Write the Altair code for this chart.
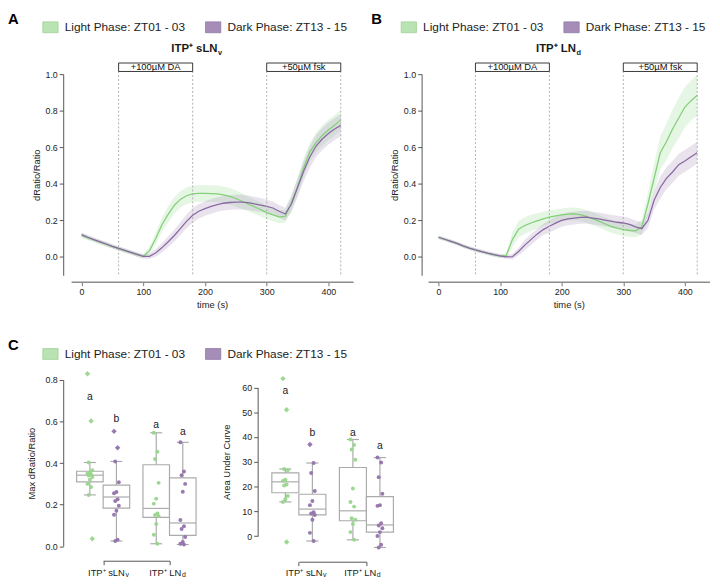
import altair as alt
import pandas as pd

FONT = "Liberation Sans"
INK = "#1a1a1a"
AX = "#555555"

phases = ["Light Phase: ZT01 - 03", "Dark Phase: ZT13 - 15"]

# ---------------- time courses (A, B) ----------------
time_s = list(range(0, 430, 10))

a_light = [0.118, 0.105, 0.093, 0.081, 0.069, 0.057, 0.046, 0.035, 0.024, 0.013, 0.004,
           0.035, 0.100, 0.175, 0.232, 0.282, 0.315, 0.335, 0.345, 0.348, 0.348,
           0.347, 0.345, 0.340, 0.332, 0.320, 0.305, 0.290, 0.275, 0.260, 0.243,
           0.230, 0.220, 0.222, 0.295, 0.385, 0.490, 0.575, 0.625, 0.665, 0.695, 0.720, 0.750]
a_dark = [0.122, 0.108, 0.095, 0.083, 0.071, 0.058, 0.047, 0.036, 0.025, 0.014, 0.003,
          0.004, 0.022, 0.050, 0.082, 0.116, 0.155, 0.195, 0.228, 0.250, 0.265,
          0.277, 0.287, 0.294, 0.298, 0.300, 0.300, 0.297, 0.290, 0.284, 0.277,
          0.268, 0.250, 0.235, 0.290, 0.380, 0.470, 0.548, 0.607, 0.645, 0.675, 0.700, 0.720]
a_light_sem = [0.012, 0.012, 0.012, 0.012, 0.012, 0.012, 0.012, 0.012, 0.012, 0.012, 0.012,
               0.020, 0.030, 0.040, 0.045, 0.045, 0.045, 0.045, 0.045, 0.046, 0.046,
               0.046, 0.046, 0.045, 0.045, 0.045, 0.043, 0.040, 0.040, 0.038, 0.036,
               0.035, 0.035, 0.035, 0.040, 0.050, 0.050, 0.050, 0.055, 0.055, 0.055, 0.055, 0.055]
a_dark_sem = [0.012, 0.012, 0.012, 0.012, 0.012, 0.012, 0.012, 0.012, 0.012, 0.012, 0.012,
              0.015, 0.020, 0.025, 0.030, 0.032, 0.035, 0.038, 0.040, 0.040, 0.040,
              0.040, 0.040, 0.040, 0.040, 0.040, 0.040, 0.040, 0.040, 0.038, 0.036,
              0.035, 0.035, 0.035, 0.045, 0.050, 0.055, 0.060, 0.060, 0.060, 0.060, 0.060, 0.060]

b_light = [0.107, 0.097, 0.086, 0.074, 0.060, 0.048, 0.038, 0.029, 0.020, 0.012, 0.005,
           0.008, 0.095, 0.152, 0.172, 0.186, 0.197, 0.208, 0.218, 0.225, 0.230,
           0.234, 0.236, 0.232, 0.222, 0.210, 0.196, 0.182, 0.168, 0.158, 0.150,
           0.145, 0.143, 0.165, 0.290, 0.430, 0.570, 0.630, 0.700, 0.760, 0.820, 0.855, 0.885]
b_dark = [0.108, 0.097, 0.086, 0.074, 0.061, 0.049, 0.039, 0.030, 0.021, 0.013, 0.006,
          0.001, 0.002, 0.030, 0.065, 0.095, 0.125, 0.150, 0.168, 0.185, 0.200,
          0.208, 0.213, 0.217, 0.218, 0.213, 0.208, 0.202, 0.196, 0.190, 0.186,
          0.178, 0.165, 0.155, 0.200, 0.310, 0.380, 0.430, 0.465, 0.505, 0.525, 0.548, 0.570]
b_light_sem = [0.010, 0.010, 0.010, 0.010, 0.010, 0.010, 0.010, 0.010, 0.010, 0.010, 0.010,
               0.012, 0.040, 0.045, 0.045, 0.045, 0.042, 0.040, 0.036, 0.035, 0.035,
               0.035, 0.035, 0.035, 0.035, 0.035, 0.035, 0.035, 0.035, 0.035, 0.035,
               0.035, 0.035, 0.040, 0.060, 0.080, 0.090, 0.100, 0.105, 0.110, 0.110, 0.110, 0.110]
b_dark_sem = [0.010, 0.010, 0.010, 0.010, 0.010, 0.010, 0.010, 0.010, 0.010, 0.010, 0.010,
              0.010, 0.015, 0.020, 0.030, 0.030, 0.030, 0.030, 0.035, 0.035, 0.035,
              0.035, 0.035, 0.035, 0.035, 0.035, 0.035, 0.035, 0.035, 0.035, 0.035,
              0.035, 0.035, 0.035, 0.040, 0.050, 0.060, 0.060, 0.060, 0.060, 0.060, 0.060, 0.060]

treat_names = ["+100µM DA", "+50µM fsk"]
treat_start = [60, 300]
treat_end = [180, 420]

for arr in [a_light, a_dark, a_light_sem, a_dark_sem, b_light, b_dark, b_light_sem, b_dark_sem]:
    assert len(arr) == len(time_s)

# ---------------- box plots (C) ----------------
group_main = ["ITP⁺ sLN", "ITP⁺ LN"]
group_sub = ["v", "d"]
box_group = [0, 0, 1, 1]
box_phase = [phases[0], phases[1], phases[0], phases[1]]
box_letters = ["a", "b", "a", "a"]

max_lo = [0.247, 0.025, 0.012, 0.008]
max_q1 = [0.310, 0.183, 0.139, 0.052]
max_med = [0.342, 0.237, 0.182, 0.112]
max_q3 = [0.361, 0.294, 0.392, 0.329]
max_hi = [0.403, 0.408, 0.546, 0.500]
max_letter_y = [0.716, 0.610, 0.582, 0.550]
max_points = [
    [0.830, 0.603, 0.403, 0.366, 0.355, 0.350, 0.345, 0.340, 0.333, 0.320, 0.300, 0.285, 0.247, 0.036],
    [0.553, 0.474, 0.408, 0.308, 0.261, 0.255, 0.226, 0.218, 0.195, 0.171, 0.152, 0.031, 0.025],
    [0.546, 0.455, 0.420, 0.305, 0.229, 0.205, 0.158, 0.150, 0.145, 0.107, 0.055, 0.012],
    [0.500, 0.360, 0.342, 0.300, 0.262, 0.126, 0.096, 0.083, 0.044, 0.020, 0.012, 0.008],
]

auc_lo = [13.8, -2.0, -1.5, -4.6]
auc_q1 = [17.5, 8.6, 6.2, 1.6]
auc_med = [21.9, 10.9, 10.2, 4.5]
auc_q3 = [25.5, 16.9, 27.7, 15.9]
auc_hi = [27.1, 29.5, 39.0, 31.7]
auc_letter_y = [58.6, 41.7, 41.7, 36.3]
auc_points = [
    [63.6, 51.0, 27.1, 26.6, 22.8, 22.3, 20.8, 20.4, 16.2, 14.9, 13.8, -2.4],
    [37.0, 29.5, 25.5, 18.2, 14.2, 12.5, 9.6, 9.1, 8.5, 6.6, 1.3, -2.0],
    [39.0, 36.8, 35.0, 30.8, 19.2, 13.8, 11.9, 7.2, 6.6, 4.9, 1.6, -1.5],
    [31.7, 29.7, 23.8, 17.1, 12.5, 12.2, 5.2, 4.3, 3.2, 1.6, 0.0, -3.5, -4.6],
]

# ---------------- styles ----------------
LINE_COLORS = ["#84d078", "#8a69a3"]
BAND_COLORS = ["#8fd487", "#9b7fb3"]
POINT_COLORS = ["#97d68b", "#9473ac"]
LEG_FILL = ["#b9e3b2", "#a58db8"]
LEG_STROKE = ["#9fd197", "#9079a6"]
BOX_GRAY = "#ababab"

one = pd.DataFrame({"k": [0]})


def txt(s, x, y, size, weight="normal", align="left", baseline="alphabetic", color=INK):
    return alt.Chart(pd.DataFrame({"s": [s]})).mark_text(
        font=FONT, fontSize=size, fontWeight=weight, align=align, baseline=baseline, color=color
    ).encode(text="s:N", x=alt.value(x), y=alt.value(y))


def legend_layers(yc):
    out = []
    for lab, f, s, x0 in zip(phases, LEG_FILL, LEG_STROKE, [-20.7, 144.3]):
        out.append(alt.Chart(one).mark_rect(fill=f, stroke=s, strokeWidth=0.8).encode(
            x=alt.value(x0), x2=alt.value(x0 + 15.5), y=alt.value(yc - 5.5), y2=alt.value(yc + 5.5)))
        out.append(txt(lab, x0 + 22.2, yc, 12, baseline="middle", color="#222"))
    return out


def time_panel(light, dark, lsem, dsem, main, sub, letter, letter_x, xrange):
    n = len(time_s)
    df = pd.DataFrame({"t": time_s * 2, "phase": [phases[0]] * n + [phases[1]] * n,
                       "mean": light + dark, "sem": lsem + dsem})
    df["lo"] = df["mean"] - df["sem"]
    df["hi"] = df["mean"] + df["sem"]
    xs = alt.Scale(domain=[-17, 440], range=xrange, nice=False, zero=False)
    ys = alt.Scale(domain=[-0.1, 1.0], range=[204, 0], nice=False, zero=False)
    xax = alt.Axis(values=[0, 100, 200, 300, 400], title="time (s)", grid=False,
                   domainColor="#8c8c8c", domainWidth=1.6, tickColor="#8c8c8c", tickWidth=1.2,
                   tickSize=4, labelFontSize=9, titleFontSize=9.5, labelPadding=2, titlePadding=3,
                   titleFontWeight="normal")
    yax = alt.Axis(values=[0, 0.2, 0.4, 0.6, 0.8, 1.0], format=".1f", title="dRatio/Ratio", grid=False,
                   domainColor=AX, tickColor=AX, tickSize=4, labelFontSize=9, labelPadding=2,
                   titleFontSize=9.5, titlePadding=4, titleFontWeight="normal")
    band = alt.Chart(df).mark_area(opacity=0.22).encode(
        x=alt.X("t:Q", scale=xs, axis=xax),
        y=alt.Y("lo:Q", scale=ys, axis=yax),
        y2="hi:Q",
        fill=alt.Fill("phase:N", scale=alt.Scale(domain=phases, range=BAND_COLORS), legend=None),
    )
    line = alt.Chart(df).mark_line(strokeWidth=1.3).encode(
        x=alt.X("t:Q", scale=xs, axis=xax),
        y=alt.Y("mean:Q", scale=ys, axis=yax),
        stroke=alt.Stroke("phase:N", scale=alt.Scale(domain=phases, range=LINE_COLORS), legend=None),
    )
    rules = alt.Chart(pd.DataFrame({"t": treat_start + treat_end})).mark_rule(
        color="#a8a8a8", strokeDash=[2, 2], strokeWidth=0.9
    ).encode(x=alt.X("t:Q", scale=xs, axis=xax), y=alt.value(-3), y2=alt.value(204))
    tr = pd.DataFrame({"name": treat_names, "start": treat_start, "end": treat_end})
    tr["mid"] = (tr["start"] + tr["end"]) / 2
    tboxes = alt.Chart(tr).mark_rect(fill="white", stroke="#222", strokeWidth=0.9).encode(
        x=alt.X("start:Q", scale=xs, axis=xax), x2="end:Q", y=alt.value(-11.3), y2=alt.value(-2.7))
    ttext = alt.Chart(tr).mark_text(font=FONT, fontSize=9.5, baseline="middle", color="#111").encode(
        x=alt.X("mid:Q", scale=xs, axis=xax), y=alt.value(-6.7), text="name:N")
    layers = [band, line, rules, tboxes, ttext,
              txt(main, 156.5, -22.5, 11.5, weight="bold", align="right"),
              txt(sub, 157.0, -19.8, 7.5, weight="bold"),
              txt(letter, letter_x, -63, 15, weight="bold", baseline="top", color="#000")]
    layers += legend_layers(-47.5)
    return alt.layer(*layers).properties(width=294, height=210.5)


def box_panel(lo, q1, med, q3, hi, pts, letter_y, ydomain, yrange, yvalues, yfmt, ytitle,
              title_pad, xrange, xoffset, yoffset, label_dx, with_legend):
    bx = pd.DataFrame({"g": box_group, "phase": box_phase, "lo": lo, "q1": q1, "med": med,
                       "q3": q3, "hi": hi, "lab": box_letters, "ly": letter_y})
    bx["pos"] = bx["g"] + bx["phase"].map({phases[0]: -0.2, phases[1]: 0.2})
    bx["xl"] = bx["pos"] - 0.2
    bx["xr"] = bx["pos"] + 0.2
    bx["cl"] = bx["pos"] - 0.09
    bx["cr"] = bx["pos"] + 0.09
    rows = []
    for k, vals in enumerate(pts):
        for i, v in enumerate(vals):
            kind = "out" if (v > hi[k] or v < lo[k]) else "pt"
            jit = (((i * 3) % 5) - 2) * 0.018
            rows.append({"pos": bx.loc[k, "pos"] + jit, "v": v, "phase": box_phase[k], "kind": kind})
    pdf = pd.DataFrame(rows)
    xs = alt.Scale(domain=[0, 1], range=xrange, nice=False, zero=False)
    ys = alt.Scale(domain=ydomain, range=yrange, nice=False, zero=False)
    xax = alt.Axis(values=[0, 1], labels=False, title=None, grid=False, domainColor=AX, tickColor=AX,
                   tickSize=4, offset=xoffset)
    yax = alt.Axis(values=yvalues, format=yfmt, title=ytitle, grid=False, domainColor=AX, tickColor=AX,
                   tickSize=4, labelFontSize=9, labelPadding=2, titleFontSize=9.5,
                   titlePadding=title_pad, titleFontWeight="normal", offset=yoffset)
    X = lambda f: alt.X(f, scale=xs, axis=xax)
    Y = lambda f: alt.Y(f, scale=ys, axis=yax)
    base = alt.Chart(bx)
    whisk1 = base.mark_rule(color=BOX_GRAY, strokeWidth=1.2).encode(x=X("pos:Q"), y=Y("lo:Q"), y2="q1:Q")
    whisk2 = base.mark_rule(color=BOX_GRAY, strokeWidth=1.2).encode(x=X("pos:Q"), y=Y("q3:Q"), y2="hi:Q")
    cap1 = base.mark_rule(color=BOX_GRAY, strokeWidth=1.2).encode(x=X("cl:Q"), x2="cr:Q", y=Y("lo:Q"))
    cap2 = base.mark_rule(color=BOX_GRAY, strokeWidth=1.2).encode(x=X("cl:Q"), x2="cr:Q", y=Y("hi:Q"))
    box = base.mark_rect(fill="white", stroke=BOX_GRAY, strokeWidth=1.2).encode(
        x=X("xl:Q"), x2="xr:Q", y=Y("q1:Q"), y2="q3:Q")
    medl = base.mark_rule(color=BOX_GRAY, strokeWidth=1.2).encode(x=X("xl:Q"), x2="xr:Q", y=Y("med:Q"))
    points = alt.Chart(pdf).mark_point(filled=True, opacity=0.95, strokeWidth=0).encode(
        x=X("pos:Q"),
        y=Y("v:Q"),
        color=alt.Color("phase:N", scale=alt.Scale(domain=phases, range=POINT_COLORS), legend=None),
        shape=alt.Shape("kind:N", scale=alt.Scale(domain=["pt", "out"], range=["circle", "diamond"]), legend=None),
        size=alt.Size("kind:N", scale=alt.Scale(domain=["pt", "out"], range=[16, 30]), legend=None),
    )
    letters = base.mark_text(font=FONT, fontSize=10.5, baseline="middle", color=INK).encode(
        x=X("pos:Q"), y=Y("ly:Q"), text="lab:N")
    layers = [whisk1, whisk2, cap1, cap2, box, medl, points, letters]
    for g in range(2):
        d = pd.DataFrame({"g": [g], "s": [group_main[g]], "u": [group_sub[g]]})
        layers.append(alt.Chart(d).mark_text(font=FONT, fontSize=9.5, align="right", dx=label_dx[g],
                                             color=INK).encode(
            x=X("g:Q"), y=alt.value(195.5), text="s:N"))
        layers.append(alt.Chart(d).mark_text(font=FONT, fontSize=7, align="left", dx=label_dx[g] + 0.6,
                                             color=INK).encode(
            x=X("g:Q"), y=alt.value(198), text="u:N"))
    if with_legend:
        layers += legend_layers(-26.4)
        layers.append(txt("C", -56, -42.5, 15, weight="bold", baseline="top", color="#000"))
    return alt.layer(*layers)


panel_a = time_panel(a_light, a_dark, a_light_sem, a_dark_sem, "ITP⁺ sLN", "v", "A", -56, [8, 294])
panel_b = time_panel(b_light, b_dark, b_light_sem, b_dark_sem, "ITP⁺ LN", "d", "B", -51, [6.5, 292])

# second box panel sits in the right column (view left at 424 px); its axis is pulled left
C2_SHIFT = 166.3
panel_c1 = box_panel(max_lo, max_q1, max_med, max_q3, max_hi, max_points, max_letter_y,
                     [0, 0.8], [168.6, 0], [0, 0.2, 0.4, 0.6, 0.8], ".1f", "Max dRatio/Ratio", 9,
                     [40.5, 107.8], 14.7, 0, [22, 12], True).properties(width=127.7, height=168.6)
panel_c2 = box_panel(auc_lo, auc_q1, auc_med, auc_q3, auc_hi, auc_points, auc_letter_y,
                     [0, 60], [158.3, 7.6], [0, 10, 20, 30, 40, 50, 60], "d", "Area Under Curve", 11,
                     [41.8 - C2_SHIFT, 110.3 - C2_SHIFT], 15.7, C2_SHIFT, [24, 10],
                     False).properties(width=20, height=168.6)

chart = alt.concat(
    panel_a, panel_b, panel_c1, panel_c2,
    columns=2, spacing={"row": 99.2, "column": 69.5}, bounds="flush", align="all",
).resolve_scale(
    x="independent", y="independent", color="independent", fill="independent",
    stroke="independent", shape="independent", size="independent",
).properties(padding=0, background="white").configure_view(strokeWidth=0).configure_axis(
    labelFont=FONT, titleFont=FONT, labelColor="#222", titleColor="#222"
)

chart.save("out.html", embed_options={"renderer": "svg", "actions": False})
